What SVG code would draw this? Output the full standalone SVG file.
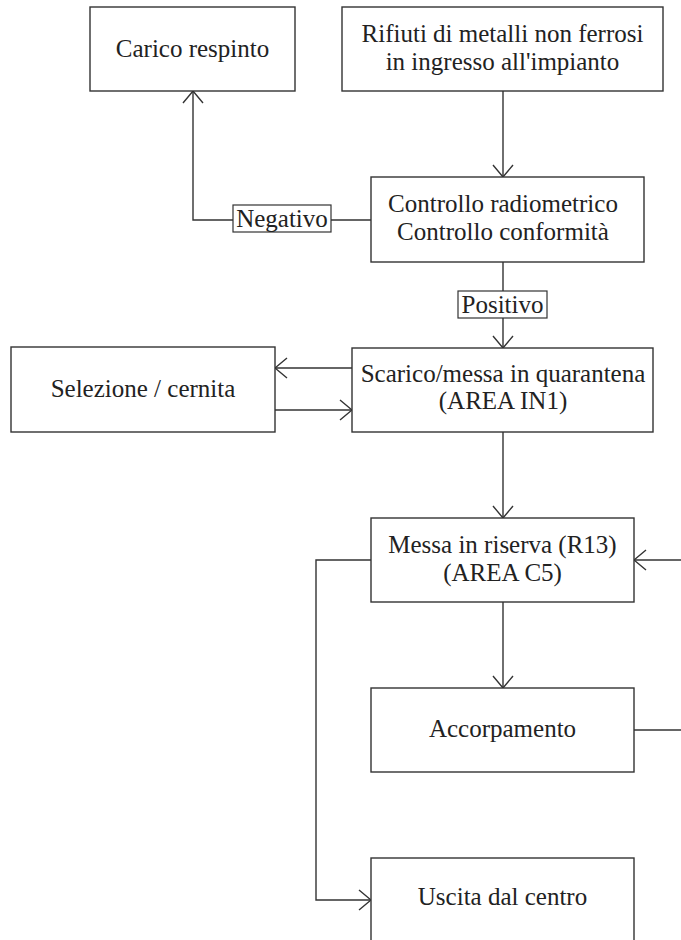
<svg xmlns="http://www.w3.org/2000/svg" width="681" height="940" viewBox="0 0 681 940">
  <style>
    .box { fill: #fff; stroke: #333; stroke-width: 1.4; }
    .tag { fill: #fff; stroke: #333; stroke-width: 1.2; }
    .line { fill: none; stroke: #333; stroke-width: 1.4; }
    text { font-family: "Liberation Serif", "Times New Roman", serif; font-size: 25px; fill: #222; text-anchor: middle; }
  </style>
  <defs>
    <marker id="arrow" viewBox="0 0 14 22" refX="13" refY="11" markerWidth="14" markerHeight="22" markerUnits="userSpaceOnUse" orient="auto">
      <path d="M1,1 L13,11 L1,21" fill="none" stroke="#333" stroke-width="1.4"/>
    </marker>
  </defs>

  <g id="connectors">
    <path class="line" d="M503,91 V177" marker-end="url(#arrow)"/>
    <path class="line" d="M371,220 H193 V91" marker-end="url(#arrow)"/>
    <path class="line" d="M503,262 V348" marker-end="url(#arrow)"/>
    <path class="line" d="M352,368 H275" marker-end="url(#arrow)"/>
    <path class="line" d="M275,410 H352" marker-end="url(#arrow)"/>
    <path class="line" d="M503,432 V518" marker-end="url(#arrow)"/>
    <path class="line" d="M503,602 V688" marker-end="url(#arrow)"/>
    <path class="line" d="M634,730 H681"/>
    <path class="line" d="M681,560 H634" marker-end="url(#arrow)"/>
    <path class="line" d="M371,560 H316 V900 H371" marker-end="url(#arrow)"/>
  </g>

  <g id="label-negativo">
    <rect class="tag" x="233" y="205" width="98" height="27"/>
    <text x="282" y="227">Negativo</text>
  </g>
  <g id="label-positivo">
    <rect class="tag" x="458" y="291" width="89" height="27"/>
    <text x="502.5" y="313">Positivo</text>
  </g>

  <g id="carico-respinto">
    <rect class="box" x="90" y="7" width="205" height="84"/>
    <text x="192.5" y="57">Carico respinto</text>
  </g>
  <g id="rifiuti-ingresso">
    <rect class="box" x="342" y="7" width="321" height="84"/>
    <text x="502.5" y="42">Rifiuti di metalli non ferrosi</text>
    <text x="502.5" y="70">in ingresso all'impianto</text>
  </g>
  <g id="controllo">
    <rect class="box" x="371" y="177" width="273" height="85"/>
    <text x="503" y="212">Controllo radiometrico</text>
    <text x="503" y="240">Controllo conformità</text>
  </g>
  <g id="selezione">
    <rect class="box" x="11" y="347" width="264" height="85"/>
    <text x="143" y="397">Selezione / cernita</text>
  </g>
  <g id="scarico">
    <rect class="box" x="352" y="348" width="301" height="84"/>
    <text x="503" y="382">Scarico/messa in quarantena</text>
    <text x="503" y="409">(AREA IN1)</text>
  </g>
  <g id="messa-in-riserva">
    <rect class="box" x="371" y="518" width="263" height="84"/>
    <text x="502.5" y="553">Messa in riserva (R13)</text>
    <text x="502.5" y="581">(AREA C5)</text>
  </g>
  <g id="accorpamento">
    <rect class="box" x="371" y="688" width="263" height="84"/>
    <text x="502.5" y="737">Accorpamento</text>
  </g>
  <g id="uscita">
    <rect class="box" x="371" y="858" width="263" height="84"/>
    <text x="502.5" y="905">Uscita dal centro</text>
  </g>
</svg>
